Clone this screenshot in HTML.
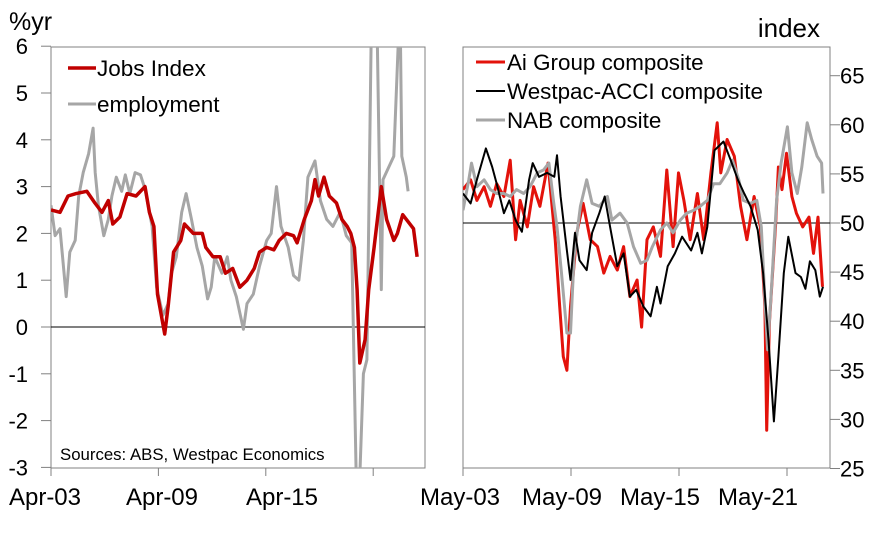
<!DOCTYPE html>
<html><head><meta charset="utf-8"><style>
body{margin:0;background:#fff}
svg{display:block;font-family:"Liberation Sans",Arial,sans-serif}
</style></head><body>
<svg id="c" width="892" height="534" viewBox="0 0 892 534">
<defs>
<clipPath id="cl"><rect x="51" y="47" width="374" height="421"/></clipPath>
<clipPath id="cr"><rect x="463" y="47" width="367" height="421"/></clipPath>
</defs>
<rect x="51" y="47" width="374" height="421" fill="none" stroke="#808080" stroke-width="1"/>
<rect x="463" y="47" width="367" height="421" fill="none" stroke="#808080" stroke-width="1"/>
<text x="9" y="30" font-size="25">%yr</text>
<text x="820" y="37" font-size="26" text-anchor="end">index</text>
<g id="lt" font-size="22"></g>
<g id="rt" font-size="22"></g>
<g id="lines"></g>
<g font-size="22.5">
<line x1="68" y1="68" x2="96" y2="68" stroke="#c00000" stroke-width="3.5"/>
<text x="97" y="76">Jobs Index</text>
<line x1="68" y1="104" x2="96" y2="104" stroke="#a6a6a6" stroke-width="3"/>
<text x="97" y="112">employment</text>
</g>
<text x="60" y="460" font-size="16.8">Sources: ABS, Westpac Economics</text>
<g font-size="22.4">
<line x1="476" y1="62" x2="505" y2="62" stroke="#e3120b" stroke-width="3"/>
<text x="507" y="70">Ai Group composite</text>
<line x1="476" y1="91" x2="505" y2="91" stroke="#000" stroke-width="2"/>
<text x="507" y="99">Westpac-ACCI composite</text>
<line x1="476" y1="120" x2="505" y2="120" stroke="#a6a6a6" stroke-width="3"/>
<text x="507" y="128">NAB composite</text>
</g>
</svg>
<script>
const leftTicks=[6,5,4,3,2,1,0,-1,-2,-3];
const rightTicks=[65,60,55,50,45,40,35,30,25];
const leftXLabels=["Apr-03","Apr-09","Apr-15"];
const leftXYears=[2003.25,2009.25,2015.25,2021.25];
const rightXLabels=["May-03","May-09","May-15","May-21"];
const rightXYears=[2003.33,2009.33,2015.33,2021.33];

const jobsX=[2003.25,2003.75,2004.2,2004.65,2005.25,2005.7,2006.1,2006.45,2006.7,2007.1,2007.5,2008.0,2008.5,2008.75,2009.0,2009.2,2009.6,2009.8,2010.1,2010.5,2010.7,2011.2,2011.7,2011.9,2012.3,2012.7,2013.0,2013.4,2013.8,2014.2,2014.6,2014.9,2015.3,2015.7,2016.0,2016.4,2016.8,2017.0,2017.4,2017.8,2018.0,2018.2,2018.5,2018.8,2019.2,2019.5,2019.8,2020.0,2020.2,2020.35,2020.5,2020.8,2021.0,2021.3,2021.7,2022.0,2022.4,2022.6,2022.9,2023.2,2023.5,2023.7];
const jobsY=[2.5,2.45,2.8,2.85,2.9,2.65,2.45,2.7,2.2,2.35,2.85,2.8,3.0,2.45,2.15,0.7,-0.15,0.45,1.6,1.85,2.2,2.0,2.0,1.7,1.5,1.5,1.15,1.25,0.85,1.0,1.25,1.6,1.7,1.65,1.85,2.0,1.95,1.8,2.3,2.7,3.15,2.8,3.2,2.8,2.65,2.3,2.15,2.0,1.7,0.8,-0.77,-0.27,0.8,1.7,3.0,2.3,1.85,2.0,2.4,2.25,2.1,1.5];
const empX=[2003.25,2003.48,2003.75,2004.1,2004.3,2004.6,2004.8,2005.05,2005.35,2005.6,2005.72,2005.9,2006.2,2006.45,2006.65,2006.9,2007.2,2007.4,2007.65,2007.95,2008.25,2008.5,2008.9,2009.15,2009.5,2009.8,2009.98,2010.25,2010.55,2010.8,2011.1,2011.4,2011.7,2012.0,2012.2,2012.4,2012.8,2013.1,2013.3,2013.6,2014.0,2014.2,2014.55,2014.9,2015.3,2015.55,2015.85,2016.1,2016.5,2016.8,2017.1,2017.35,2017.6,2018.0,2018.3,2018.65,2019.0,2019.4,2019.75,2020.05,2020.3,2020.5,2020.7,2020.9,2021.2,2021.4,2021.7,2021.8,2022.1,2022.4,2022.6,2022.75,2022.85,2023.1,2023.2];
const empY=[2.6,1.95,2.1,0.65,1.6,1.85,2.8,3.3,3.7,4.25,3.3,2.6,1.95,2.3,2.8,3.2,2.9,3.25,2.85,3.3,3.25,2.95,2.15,0.85,0.25,0.5,1.15,1.5,2.45,2.85,2.3,1.7,1.3,0.6,0.85,1.5,1.15,1.5,1.0,0.65,-0.05,0.5,0.7,1.3,1.85,2.0,3.0,2.15,1.7,1.1,1.0,1.85,3.2,3.55,2.7,2.3,2.15,2.45,1.95,1.8,-3.2,-3.2,-1,-0.7,8,8,0.8,3.15,3.4,3.65,5.6,7,3.65,3.2,2.9];

const aiX=[2003.33,2003.75,2004.1,2004.5,2004.85,2005.2,2005.6,2005.95,2006.25,2006.5,2006.9,2007.25,2007.6,2008.05,2008.45,2008.7,2008.9,2009.1,2009.3,2009.65,2010.0,2010.4,2010.8,2011.15,2011.5,2011.9,2012.25,2012.6,2013.0,2013.25,2013.55,2013.9,2014.3,2014.65,2015.0,2015.3,2015.6,2015.95,2016.35,2016.7,2017.1,2017.45,2017.65,2018.0,2018.4,2018.75,2019.1,2019.5,2019.85,2020.1,2020.2,2020.35,2020.7,2020.85,2021.05,2021.3,2021.6,2021.85,2022.2,2022.55,2022.8,2023.05,2023.3];
const aiY=[53.4,54.4,52.3,53.7,51.7,54.0,52.7,56.4,48.3,52.3,49.6,53.7,51.7,56.1,48.3,41.5,36.4,35.0,41.5,49.0,52.0,48.3,47.6,44.9,46.6,45.2,47.6,42.5,44.2,39.4,48.3,49.6,46.6,55.4,47.6,55.1,52.3,48.3,53.0,48.3,55.1,60.2,55.1,58.5,56.8,51.7,48.3,52.7,49.6,41.5,28.9,39.8,50.0,55.7,53.4,57.1,52.7,51.0,49.6,50.6,46.9,50.6,43.5];
const wpX=[2003.33,2003.75,2004.1,2004.6,2004.95,2005.2,2005.6,2005.9,2006.25,2006.6,2007.0,2007.2,2007.55,2008.0,2008.4,2008.55,2008.75,2009.1,2009.3,2009.55,2009.8,2010.2,2010.5,2010.9,2011.2,2011.5,2011.9,2012.25,2012.6,2012.95,2013.35,2013.75,2014.1,2014.3,2014.7,2015.1,2015.5,2016.0,2016.35,2016.6,2016.9,2017.3,2017.8,2018.2,2018.6,2018.95,2019.3,2019.7,2020.0,2020.3,2020.6,2020.85,2021.15,2021.4,2021.8,2022.1,2022.35,2022.6,2022.9,2023.15,2023.33];
const wpY=[53.0,52.0,54.4,57.6,55.7,54.0,51.0,52.3,50.3,49.1,54.4,56.1,54.7,55.1,54.7,56.9,52.7,47.2,44.2,49.0,46.2,45.2,49.0,51.0,52.7,49.6,45.6,46.9,42.5,43.2,41.5,40.5,43.5,41.8,45.6,46.9,48.6,47.2,49.0,46.9,49.6,57.4,58.3,56.4,54.4,53.0,51.7,49.3,44.9,38.1,29.8,36.4,44.9,48.6,44.9,44.5,43.3,46.1,45.2,42.5,43.5];
const nabX=[2003.33,2003.65,2003.8,2004.1,2004.5,2004.85,2005.2,2005.6,2005.95,2006.3,2006.7,2007.05,2007.45,2007.8,2008.1,2008.35,2008.55,2008.8,2009.1,2009.3,2009.5,2009.85,2010.2,2010.5,2010.9,2011.35,2011.6,2012.05,2012.45,2012.8,2013.2,2013.55,2013.85,2014.3,2014.65,2015.0,2015.4,2015.75,2016.15,2016.5,2016.9,2017.25,2017.6,2018.0,2018.3,2018.65,2018.9,2019.3,2019.65,2019.9,2020.1,2020.25,2020.45,2020.75,2021.0,2021.35,2021.6,2021.9,2022.15,2022.45,2022.7,2023.0,2023.25,2023.33];
const nabY=[51.3,54.4,56.1,53.7,54.4,53.4,53.0,53.0,52.7,53.4,53.0,53.7,55.1,55.4,56.1,52.3,49.6,44.9,38.8,38.8,46.6,51.7,54.4,52.0,51.7,52.7,50.3,51.0,50.0,47.6,45.9,46.2,47.6,49.3,50.0,49.0,50.3,51.0,51.3,51.7,52.3,54.0,54.0,55.1,56.4,54.4,52.3,52.0,52.3,49.6,42.2,37.1,42.9,52.3,56.1,59.8,55.1,53.0,55.7,60.2,58.5,56.8,56.1,53.0];

const NS="http://www.w3.org/2000/svg";
const svg=document.getElementById('c');
const lx=y=>51+(y-2003.25)*17.9, ly=v=>327-v*46.8;
const rx=y=>463+(y-2003.33)*18, ry=v=>223-(v-50)*9.82;
function mk(t,a,p){const e=document.createElementNS(NS,t);for(const k in a)e.setAttribute(k,a[k]);(p||svg).appendChild(e);return e;}
const lt=document.getElementById('lt'), rt=document.getElementById('rt');
leftTicks.forEach(v=>{
  const t=mk('line',{x1:41,x2:51,y1:ly(v),y2:ly(v),stroke:'#808080'},lt);
  
  
  const s=mk('text',{x:28,y:ly(v)+8,'text-anchor':'end'},lt);s.textContent=v;
  
  
});
rightTicks.forEach(v=>{
  const t=mk('line',{x1:830,x2:840,y1:ry(v),y2:ry(v),stroke:'#808080'},rt);
  
  
  const s=mk('text',{x:840,y:ry(v)+8},rt);s.textContent=v;
  
  
});
leftXYears.forEach(y=>{const t=mk('line',{x1:lx(y),x2:lx(y),y1:468,y2:476,stroke:'#808080'});
  
  });
rightXYears.forEach(y=>{const t=mk('line',{x1:rx(y),x2:rx(y),y1:468,y2:476,stroke:'#808080'});
  
  });
const lxPos=[45,162,282], rxPos=[460,562,660,758];
leftXLabels.forEach((s,i)=>{const t=mk('text',{x:lxPos[i],y:505,'text-anchor':'middle','font-size':24});t.textContent=s;
  
  });
rightXLabels.forEach((s,i)=>{const t=mk('text',{x:rxPos[i],y:505,'text-anchor':'middle','font-size':24});t.textContent=s;
  
  });
const z=mk('line',{x1:51,x2:425,y1:ly(0),y2:ly(0),stroke:'#000','stroke-width':1});


const f=mk('line',{x1:463,x2:830,y1:ry(50),y2:ry(50),stroke:'#000','stroke-width':1});


function line(xs,ys,fx,fy,col,w,clip){
  const d=xs.map((x,i)=>(i?'L':'M')+fx(x).toFixed(1)+' '+fy(ys[i]).toFixed(1)).join('');
  return mk('path',{d,fill:'none',stroke:col,'stroke-width':w,'stroke-linejoin':'round','clip-path':'url(#'+clip+')'});
}
let p;
p=line(empX,empY,lx,ly,'#a6a6a6',3,'cl');


p=line(jobsX,jobsY,lx,ly,'#c00000',3.5,'cl');


p=line(aiX,aiY,rx,ry,'#e3120b',3,'cr');


p=line(nabX,nabY,rx,ry,'#a6a6a6',3,'cr');


p=line(wpX,wpY,rx,ry,'#000',2,'cr');


</script>
</body></html>
